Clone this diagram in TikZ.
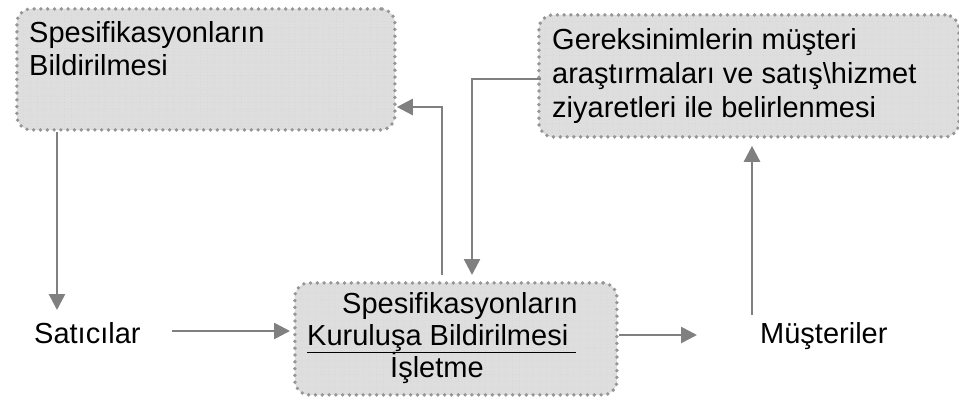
\documentclass[tikz,border=0pt]{standalone}
\usepackage{fontspec}
\setmainfont{Liberation Sans}
\usetikzlibrary{arrows.meta}
\definecolor{linegray}{RGB}{128,128,128}
\definecolor{dotgray}{RGB}{150,150,150}
\definecolor{boxfill}{RGB}{222,222,222}
\definecolor{gridgray}{RGB}{192,192,192}

\tikzset{
  stage/.style={rectangle, rounded corners=14pt, inner sep=0pt, anchor=north west,
    fill=boxfill,
    path picture={\draw[gridgray, line width=0.4pt]
      (path picture bounding box.south west) grid[step=3pt]
      (path picture bounding box.north east);},
    draw=dotgray, line width=3.8pt, dash pattern=on 0pt off 6.8pt, line cap=round},
  txt/.style={inner sep=0pt, anchor=base west, font=\fontsize{29}{34}\selectfont},
  conn/.style={draw=linegray, line width=2.6pt,
    -{Triangle[length=16pt,width=16pt]}}
}

\begin{document}
\begin{tikzpicture}[x=1pt, y=-1pt]
  \useasboundingbox (0,0) rectangle (959,400);

  % process boxes
  \node[stage, minimum width=378pt, minimum height=121pt] (b1) at (15,7) {};
  \node[stage, minimum width=420pt, minimum height=122pt] (b2) at (537,13) {};
  \node[stage, minimum width=322pt, minimum height=112pt] (b3) at (293,281) {};

  % box texts
  \node[txt] (b1l1) at (29,42) {Spesifikasyonların};
  \node[txt] (b1l2) at (29,75) {Bildirilmesi};

  \node[txt] (b2l1) at (552,49) {Gereksinimlerin müşteri};
  \node[txt] (b2l2) at (552,83) {araştırmaları ve satış\textbackslash hizmet};
  \node[txt] (b2l3) at (552,117) {ziyaretleri ile belirlenmesi};

  \node[txt] (b3l1) at (342,313) {Spesifikasyonların};
  \node[txt] (b3l2) at (307,345) {\underline{Kuruluşa Bildirilmesi\ }};
  \node[txt] (b3l3) at (390,377) {İşletme};

  % free labels
  \node[txt] (sat) at (34,343) {Satıcılar};
  \node[txt] (mus) at (760,343) {Müşteriler};

  % connector end points
  \coordinate (satN) at (57,310);
  \coordinate (satE) at (172,331);
  \coordinate (musW) at (697,335);
  \coordinate (musN) at (752,315);
  \coordinate (k1) at (442,107);
  \coordinate (k2) at (472,79);

  % connectors
  \draw[conn] (b1.south -| satN) -- (satN);
  \draw[conn, shorten >=3pt] (satE) -- (b3.west |- satE);
  \draw[conn] (b3.east |- musW) -- (musW);
  \draw[conn, shorten >=7pt] (musN) -- (b2.south -| musN);
  \draw[conn, shorten <=6pt] (b3.north -| k1) -- (k1) -- (b1.east |- k1);
  \draw[conn, shorten <=-4pt, shorten >=6pt] (b2.west |- k2) -- (k2) -- (b3.north -| k2);
\end{tikzpicture}
\end{document}
